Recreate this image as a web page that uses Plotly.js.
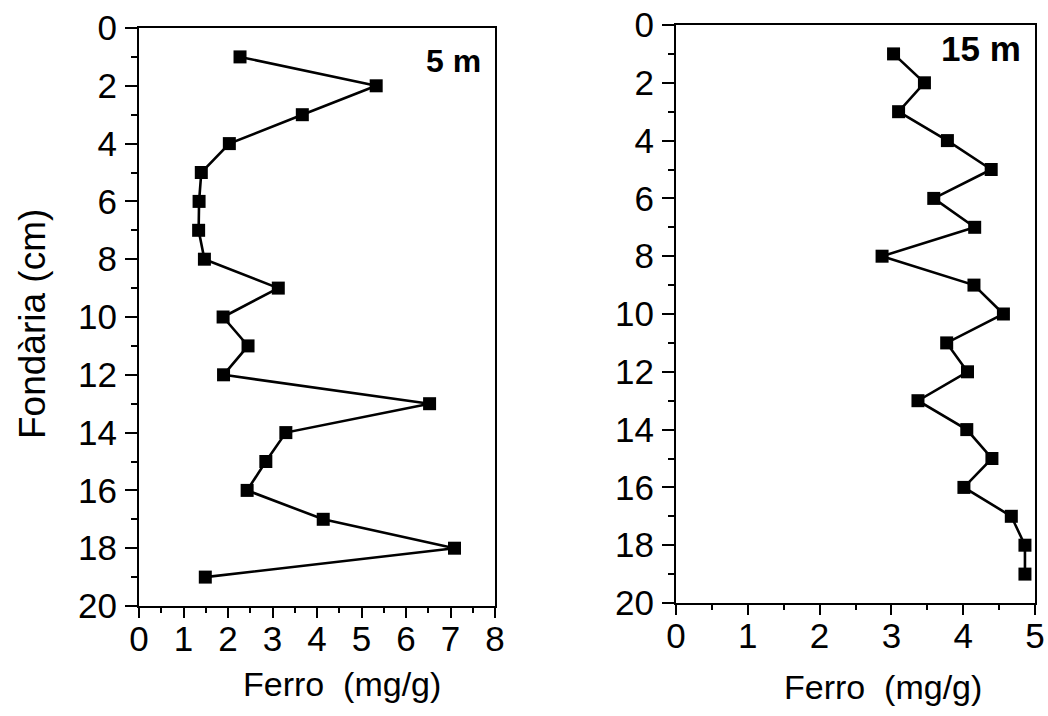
<!DOCTYPE html>
<html>
<head>
<meta charset="utf-8">
<script src="https://cdn.plot.ly/plotly-3.0.1.min.js"></script>
<style>html,body{margin:0;padding:0;background:#fff;}#chart{width:1048px;height:716px;}</style>
</head>
<body>
<div id="chart"></div>
<script>
// Depth (cm)
const depth = [1, 2, 3, 4, 5, 6, 7, 8, 9, 10, 11, 12, 13, 14, 15, 16, 17, 18, 19];
// Iron (mg/g) at 5 m station
const ferro5m = [2.27, 5.33, 3.67, 2.03, 1.40, 1.35, 1.34, 1.47, 3.13, 1.89, 2.45, 1.90, 6.53, 3.30, 2.85, 2.43, 4.14, 7.09, 1.49];
// Iron (mg/g) at 15 m station
const ferro15m = [3.03, 3.46, 3.10, 3.78, 4.39, 3.59, 4.16, 2.87, 4.15, 4.56, 3.77, 4.06, 3.37, 4.05, 4.40, 4.01, 4.67, 4.86, 4.86];
const panelLabels = ["5 m", "15 m"];
const xTitle = "Ferro  (mg/g)";
const yTitle = "Fondària (cm)";

const W = 1048, H = 716;
const FONT = "Liberation Sans, Arial, Helvetica, sans-serif";

const lineStyle = {color: "#000", width: 2.6};
const markerStyle = {symbol: "square", size: 13, color: "#000"};

const traces = [
  {x: ferro5m, y: depth, xaxis: "x", yaxis: "y", mode: "lines+markers", line: lineStyle, marker: markerStyle, showlegend: false},
  {x: ferro15m, y: depth, xaxis: "x2", yaxis: "y2", mode: "lines+markers", line: lineStyle, marker: markerStyle, showlegend: false}
];

function xAx(domain, range, anchor) {
  return {
    domain: domain, range: range, anchor: anchor, dtick: 1, tick0: 0,
    ticks: "outside", ticklen: 10, tickwidth: 2, tickcolor: "#000",
    minor: {dtick: 0.5, ticks: "outside", ticklen: 5, tickwidth: 2, tickcolor: "#000", showgrid: false},
    showline: true, linecolor: "#000", linewidth: 2, mirror: true,
    showgrid: false, zeroline: false, fixedrange: true,
    tickfont: {family: FONT, size: 35, color: "#000"}, ticklabelstandoff: -9
  };
}
function yAx(domain, anchor) {
  return {
    domain: domain, range: [20, 0], anchor: anchor, dtick: 2, tick0: 0,
    ticks: "outside", ticklen: 12, tickwidth: 2, tickcolor: "#000",
    minor: {dtick: 1, ticks: "outside", ticklen: 6, tickwidth: 2, tickcolor: "#000", showgrid: false},
    showline: true, linecolor: "#000", linewidth: 2, mirror: true,
    showgrid: false, zeroline: false, fixedrange: true,
    tickfont: {family: FONT, size: 35, color: "#000"}, ticklabelstandoff: 1
  };
}

const layout = {
  width: W, height: H,
  margin: {l: 0, r: 0, t: 0, b: 0},
  paper_bgcolor: "#fff", plot_bgcolor: "#fff",
  font: {family: FONT, color: "#000"},
  xaxis: xAx([139 / W, 495 / W], [0, 8], "y"),
  yaxis: yAx([1 - 606 / H, 1 - 28 / H], "x"),
  xaxis2: xAx([676 / W, 1035 / W], [0, 5], "y2"),
  yaxis2: yAx([1 - 603 / H, 1 - 25 / H], "x2"),
  annotations: [
    {text: panelLabels[0], xref: "paper", yref: "paper", x: 483 / W, y: 1 - 61 / H, xanchor: "right", yanchor: "middle", showarrow: false, font: {family: FONT, size: 32, color: "#000", weight: "bold"}},
    {text: panelLabels[1], xref: "paper", yref: "paper", x: 1023 / W, y: 1 - 48 / H, xanchor: "right", yanchor: "middle", showarrow: false, font: {family: FONT, size: 35, color: "#000", weight: "bold"}},
    {text: xTitle, xref: "paper", yref: "paper", x: 342 / W, y: 1 - 684 / H, xanchor: "center", yanchor: "middle", showarrow: false, font: {family: FONT, size: 34, color: "#000"}},
    {text: xTitle, xref: "paper", yref: "paper", x: 883 / W, y: 1 - 687 / H, xanchor: "center", yanchor: "middle", showarrow: false, font: {family: FONT, size: 34, color: "#000"}},
    {text: yTitle, xref: "paper", yref: "paper", x: 32 / W, y: 1 - 324 / H, xanchor: "center", yanchor: "middle", textangle: -90, showarrow: false, font: {family: FONT, size: 37, color: "#000"}}
  ]
};

Plotly.newPlot("chart", traces, layout, {staticPlot: true, displayModeBar: false});
</script>
</body>
</html>
